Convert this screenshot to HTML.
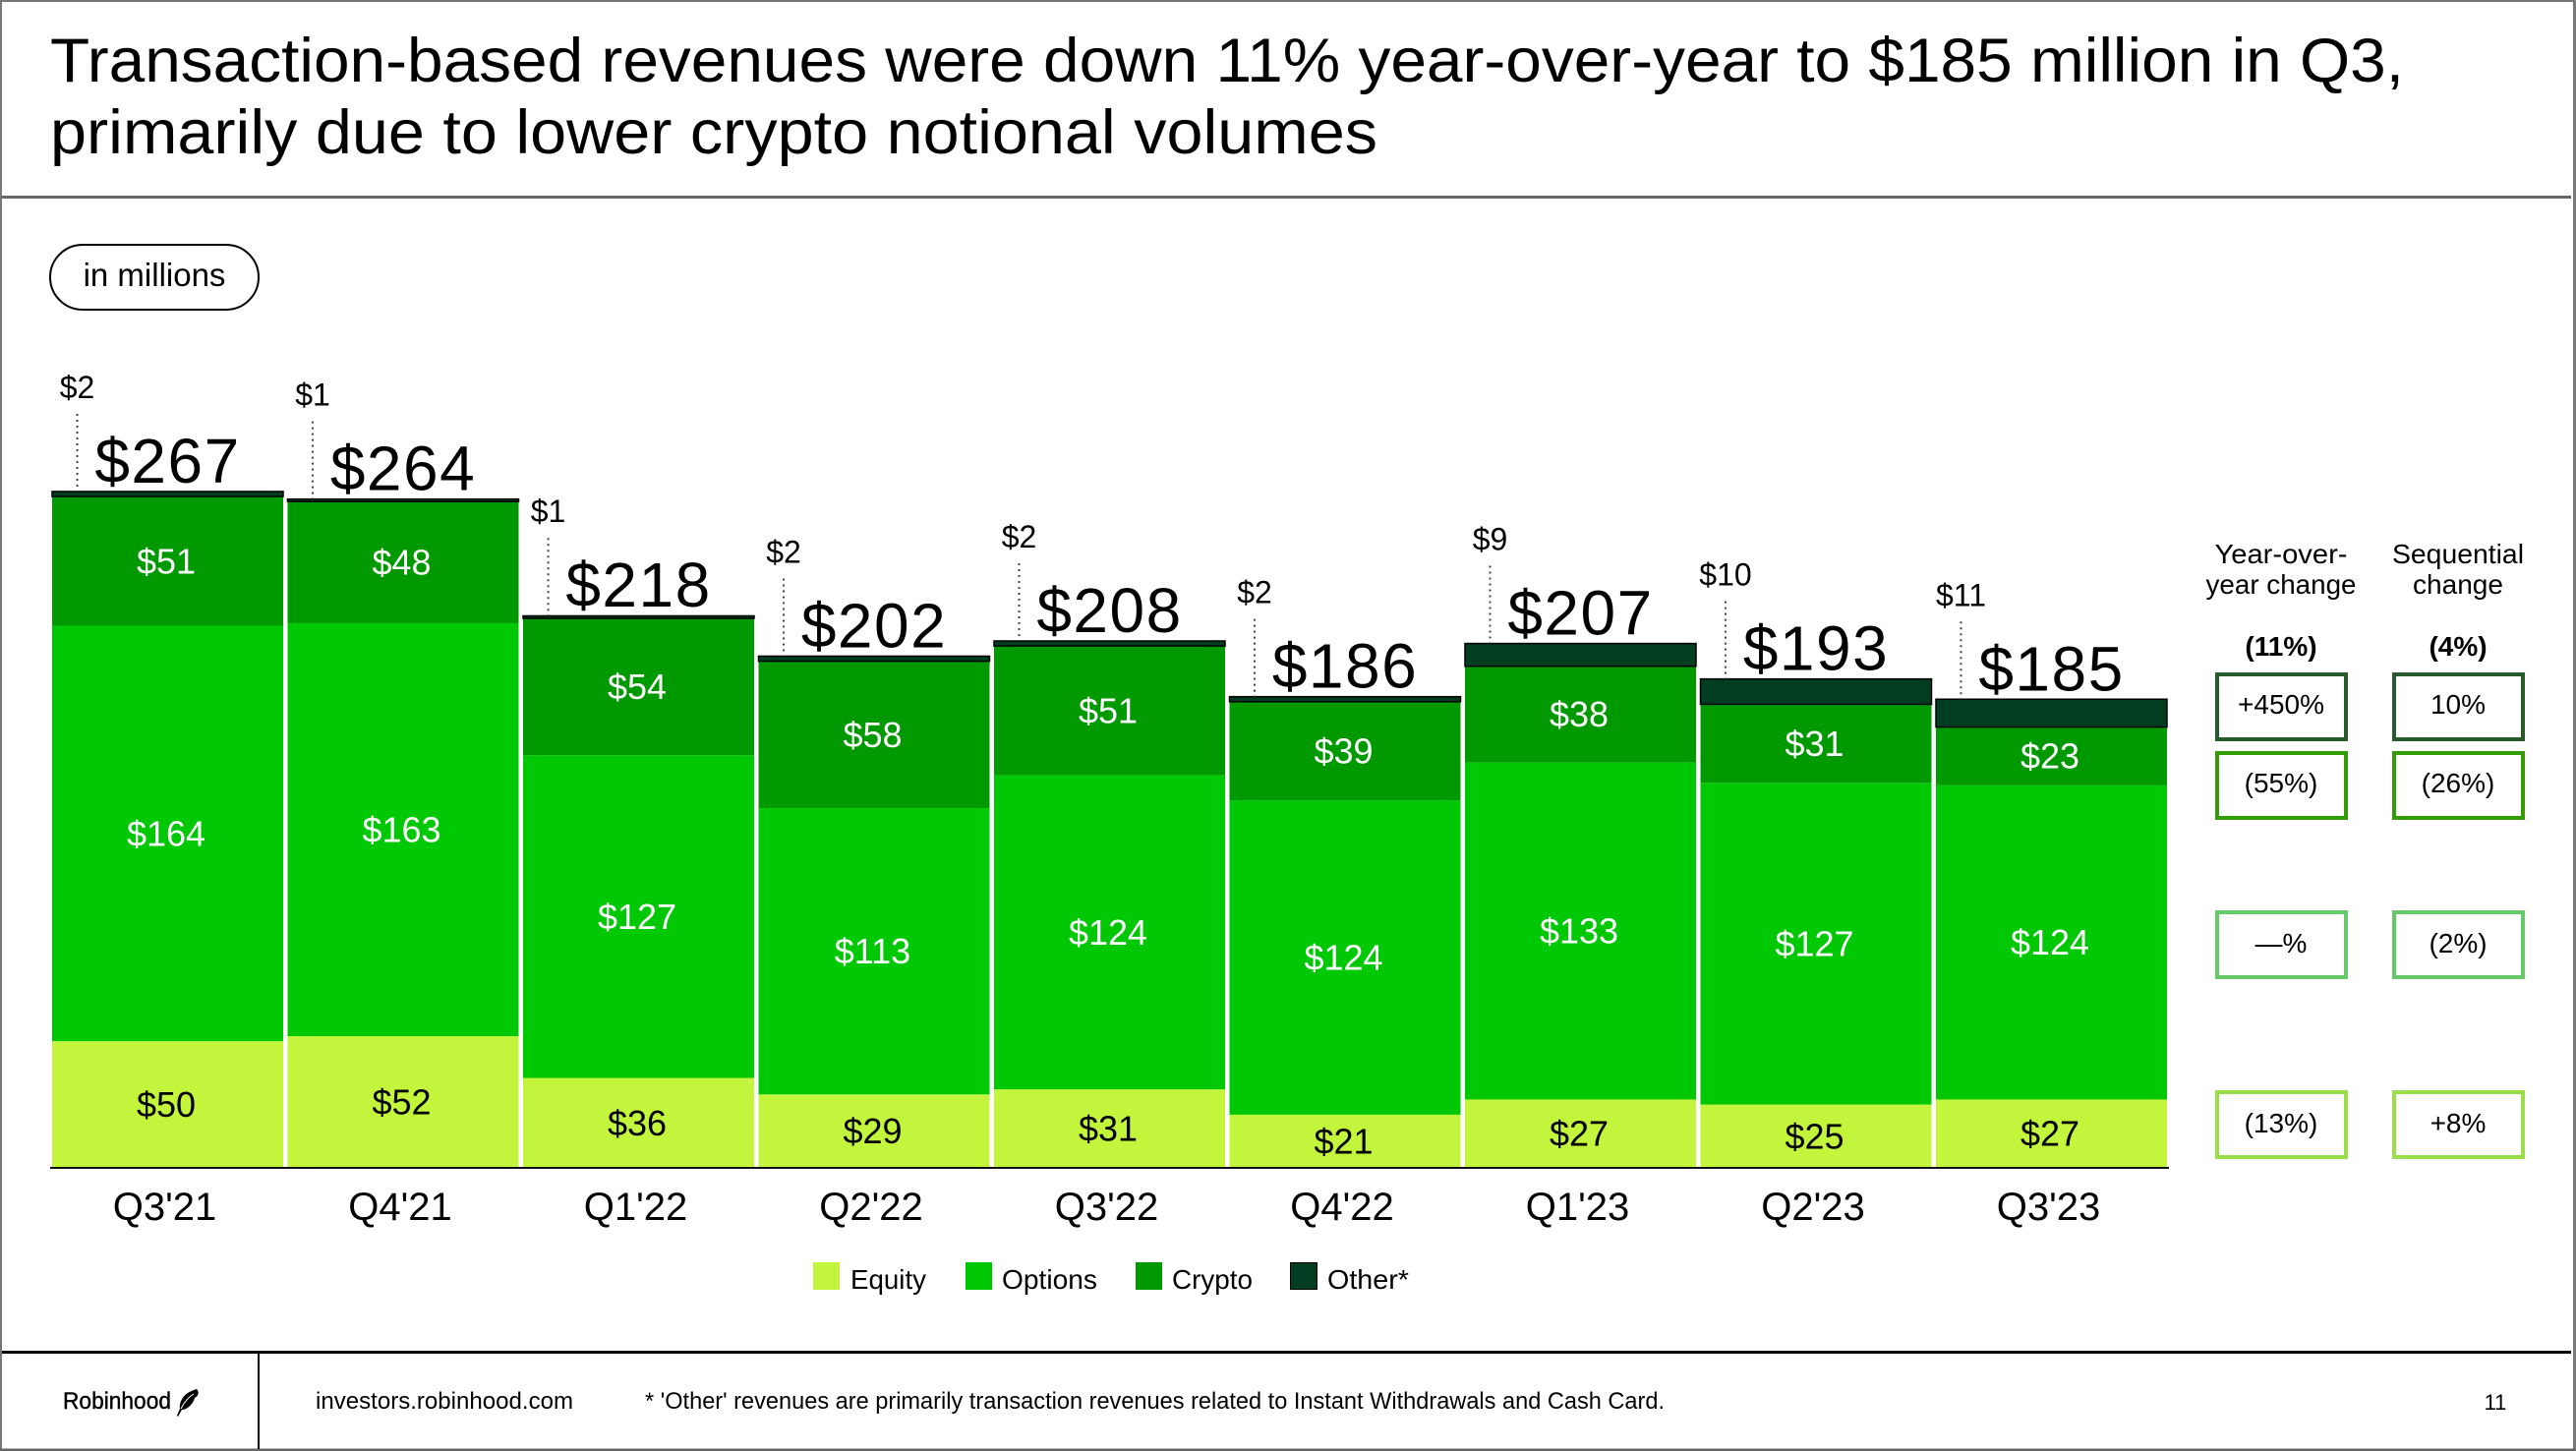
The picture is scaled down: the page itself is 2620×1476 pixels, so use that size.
<!DOCTYPE html>
<html lang="en">
<head>
<meta charset="utf-8">
<title>Transaction-based revenues</title>
<style>
html,body{margin:0;padding:0;background:#fff;width:2620px;height:1476px;overflow:hidden}
svg{display:block;font-family:"Liberation Sans",sans-serif}
</style>
</head>
<body>
<svg id="slide" xmlns="http://www.w3.org/2000/svg" width="2620" height="1476" viewBox="0 0 2620 1476">
  <rect x="0" y="0" width="2620" height="1476" fill="#fff"/>
  <rect x="0" y="0" width="2620" height="2" fill="#777"/>
  <rect x="0" y="0" width="2" height="1476" fill="#777"/>
  <rect x="2617" y="0" width="3" height="1476" fill="#777"/>
  <rect x="0" y="1473.500" width="2620" height="2.500" fill="#666"/>

  <text x="51" y="83" font-size="63" fill="#000" textLength="2394" lengthAdjust="spacingAndGlyphs">Transaction-based revenues were down 11% year-over-year to $185 million in Q3,</text>
  <text x="51" y="156" font-size="63" fill="#000" textLength="1350" lengthAdjust="spacingAndGlyphs">primarily due to lower crypto notional volumes</text>
  <rect x="2" y="199" width="2613" height="3" fill="#666"/>

  <rect x="51" y="249" width="212" height="66" rx="33" ry="33" fill="#fff" stroke="#000" stroke-width="2"/>
  <text x="157" y="291" font-size="33" text-anchor="middle" fill="#000">in millions</text>

  <g id="chart"></g>

  <g id="legend">
    <rect x="827" y="1284" width="27" height="28" fill="#C3F53C"/>
    <text x="865" y="1311" font-size="28" textLength="77" lengthAdjust="spacingAndGlyphs">Equity</text>
    <rect x="982" y="1284" width="27" height="28" fill="#00C805"/>
    <text x="1019" y="1311" font-size="28" textLength="97" lengthAdjust="spacingAndGlyphs">Options</text>
    <rect x="1155" y="1284" width="27" height="28" fill="#009A00"/>
    <text x="1192" y="1311" font-size="28" textLength="82" lengthAdjust="spacingAndGlyphs">Crypto</text>
    <rect x="1312.500" y="1284.500" width="27" height="27" fill="#003D21" stroke="#000" stroke-width="1"/>
    <text x="1350" y="1311" font-size="28" textLength="83" lengthAdjust="spacingAndGlyphs">Other*</text>
  </g>

  <g id="change-panel" font-size="28" text-anchor="middle" fill="#000">
    <text x="2320" y="573" textLength="135" lengthAdjust="spacingAndGlyphs">Year-over-</text>
    <text x="2320" y="604" textLength="153" lengthAdjust="spacingAndGlyphs">year change</text>
    <text x="2500" y="573" textLength="134" lengthAdjust="spacingAndGlyphs">Sequential</text>
    <text x="2500" y="604" textLength="92" lengthAdjust="spacingAndGlyphs">change</text>
    <text x="2320" y="667" font-weight="bold">(11%)</text>
    <text x="2500" y="667" font-weight="bold">(4%)</text>

    <rect x="2255" y="686" width="131" height="66" fill="#fff" stroke="#265C2C" stroke-width="4"/>
    <text x="2320" y="726">+450%</text>
    <rect x="2435" y="686" width="131" height="66" fill="#fff" stroke="#265C2C" stroke-width="4"/>
    <text x="2500" y="726">10%</text>

    <rect x="2255" y="766" width="131" height="66" fill="#fff" stroke="#339B05" stroke-width="4"/>
    <text x="2320" y="806">(55%)</text>
    <rect x="2435" y="766" width="131" height="66" fill="#fff" stroke="#339B05" stroke-width="4"/>
    <text x="2500" y="806">(26%)</text>

    <rect x="2255" y="928" width="131" height="66" fill="#fff" stroke="#66C868" stroke-width="4"/>
    <text x="2320" y="969">—%</text>
    <rect x="2435" y="928" width="131" height="66" fill="#fff" stroke="#66C868" stroke-width="4"/>
    <text x="2500" y="969">(2%)</text>

    <rect x="2255" y="1111" width="131" height="66" fill="#fff" stroke="#9ADE4C" stroke-width="4"/>
    <text x="2320" y="1152">(13%)</text>
    <rect x="2435" y="1111" width="131" height="66" fill="#fff" stroke="#9ADE4C" stroke-width="4"/>
    <text x="2500" y="1152">+8%</text>
  </g>

  <rect x="2" y="1374" width="2613" height="3" fill="#000"/>
  <rect x="262" y="1377" width="2" height="97" fill="#000"/>
  <text x="64" y="1433" font-size="24" fill="#000" stroke="#000" stroke-width="0.4" textLength="110" lengthAdjust="spacingAndGlyphs">Robinhood</text>
  <path d="M200 1413 C203 1416 202 1420 198 1422 C196 1429 190 1434 185 1434 L181 1441 L180 1440 L183 1433 C182 1427 186 1420 191 1417 C194 1415 197 1414 200 1413 Z" fill="#000"/>
  <path d="M197 1418 C192 1421 187 1427 184 1433" fill="none" stroke="#fff" stroke-width="1"/>
  <text x="321" y="1433" font-size="24" fill="#000" textLength="262" lengthAdjust="spacingAndGlyphs">investors.robinhood.com</text>
  <text x="656" y="1433" font-size="24" fill="#000" textLength="1037" lengthAdjust="spacingAndGlyphs">* 'Other' revenues are primarily transaction revenues related to Instant Withdrawals and Cash Card.</text>
  <text x="2538" y="1434" font-size="22" text-anchor="middle" fill="#000">11</text>
</svg>

<script>
const quarters = ["Q3'21","Q4'21","Q1'22","Q2'22","Q3'22","Q4'22","Q1'23","Q2'23","Q3'23"];
const equity = [50,52,35.5,29,31,21,27,25,27];
const options = [164,163,127.4,113,124,124,133,127,124];
const crypto = [51,48,54,58,51,39,38,31,23];
const other = [2,1,1,2,2,2,9,10,11];
const totals = [267,264,218,202,208,186,207,193,185];

const NS = 'http://www.w3.org/2000/svg';
const chart = document.getElementById('chart');
const baseY = 1188;
const unitPx = 2.577;
const firstX = 53;
const pitch = 239.5;
const barW = 235;
const yOf = function (v) { return baseY - v * unitPx; };
const xOf = function (i) { return firstX + i * pitch; };

function make(tag, parent) {
  const el = document.createElementNS(NS, tag);
  parent.appendChild(el);
  return el;
}
function place(el, x, y, size, fill, text) {
  el.setAttribute('x', x);
  el.setAttribute('y', y);
  el.setAttribute('font-size', size);
  el.setAttribute('fill', fill);
  el.setAttribute('text-anchor', 'middle');
  el.textContent = text;
}

quarters.forEach(function (q, i) {
  const x = xOf(i);
  const cx = x + barW / 2;
  const group = make('g', chart);
  
  

  const stack = [
    { key: 'equity', val: equity[i], fill: '#C3F53C', ink: '#000' },
    { key: 'options', val: options[i], fill: '#00C805', ink: '#fff' },
    { key: 'crypto', val: crypto[i], fill: '#009A00', ink: '#fff' },
    { key: 'other', val: other[i], fill: '#003D21', ink: null }
  ];
  let running = 0;
  stack.forEach(function (s) {
    const y0 = yOf(running);
    const y1 = yOf(running + s.val);
    const r = make('rect', group);
    
    
    r.setAttribute('x', x);
    r.setAttribute('y', y1);
    r.setAttribute('width', barW);
    r.setAttribute('height', y0 - y1);
    r.setAttribute('fill', s.fill);
    if (s.key === 'other') {
      r.setAttribute('stroke', '#000');
      r.setAttribute('stroke-width', '1.5');
    }
    if (s.ink) {
      const t = make('text', group);
      
      
      place(t, cx - 1.500, (y0 + y1) / 2 + 12.5, 36, s.ink, '$' + Math.round(s.val));
    }
    running += s.val;
  });

  const top = yOf(totals[i]);
  const leader = make('line', group);
  
  
  leader.setAttribute('x1', x + 25.5);
  leader.setAttribute('x2', x + 25.5);
  leader.setAttribute('y1', top - 79);
  leader.setAttribute('y2', top);
  leader.setAttribute('stroke', '#444');
  leader.setAttribute('stroke-width', '2');
  leader.setAttribute('stroke-dasharray', '2 4');

  const otherLabel = make('text', group);
  
  
  place(otherLabel, x + 25.5, top - 95, 32, '#000', '$' + other[i]);

  const totalLabel = make('text', group);
  
  
  place(totalLabel, cx, top - 9, 64, '#000', '$' + totals[i]);
  totalLabel.setAttribute('letter-spacing', '1.5');

  const tick = make('text', group);
  
  
  place(tick, cx - 3, 1241, 40, '#000', q);
});

const axis = make('rect', chart);


axis.setAttribute('x', 51);
axis.setAttribute('y', 1187);
axis.setAttribute('width', 2155);
axis.setAttribute('height', 2);
axis.setAttribute('fill', '#111');
</script>
</body>
</html>
